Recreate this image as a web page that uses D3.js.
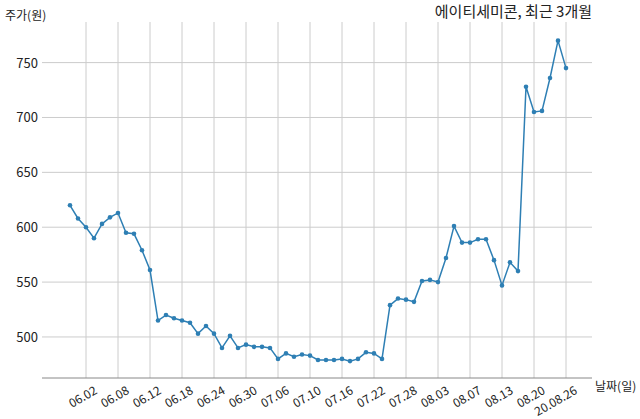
<!DOCTYPE html>
<html><head><meta charset="utf-8">
<script src="https://cdn.jsdelivr.net/npm/d3@7"></script>
<style>body{margin:0;background:#fff;font-family:"Noto Sans CJK KR","Noto Sans",sans-serif}</style>
</head><body><div id="chart"></div>
<script>
// 주가 (원), 최근 3개월
const prices = [620,608,600,590,603,609,613,595,594,579,561,515,520,517,515,513,503,510,503,490,
  501,490,493,491,491,490,480,485,482,484,483,479,479,479,480,478,480,486,485,480,
  529,535,534,532,551,552,550,572,601,586,586,589,589,570,547,568,560,728,705,706,736,770,745];
const tickIdx = [2,6,10,14,18,22,26,30,34,38,42,46,50,54,58,62];
const tickLabels = ["06.02","06.08","06.12","06.18","06.24","06.30","07.06","07.10","07.16","07.22","07.28","08.03","08.07","08.13","08.20","20.08.26"];
const yTicks = [500,550,600,650,700,750];

const W = 640, H = 419, L = 42, R = 592, T = 22, B = 378;
const svg = d3.select("#chart").append("svg").attr("width", W).attr("height", H);
const x = d3.scaleLinear().domain([-3.5, 65.25]).range([L, R]);
const y = d3.scaleLinear().domain([462.6, 787]).range([B, T]);

svg.append("g").selectAll("line").data(yTicks).join("line")
  .attr("x1", L).attr("x2", R).attr("y1", d => y(d)).attr("y2", d => y(d))
  .attr("stroke", "#ccc");
svg.append("g").selectAll("line").data(tickIdx).join("line")
  .attr("x1", d => x(d)).attr("x2", d => x(d)).attr("y1", T).attr("y2", B)
  .attr("stroke", "#ccc");
svg.append("line").attr("x1", L).attr("x2", R).attr("y1", B).attr("y2", B).attr("stroke", "#888");

svg.append("g").selectAll("text").data(yTicks).join("text")
  .attr("x", 38).attr("y", d => y(d) + 5).attr("text-anchor", "end")
  .attr("font-size", 13).attr("fill", "#222").text(d => d);
svg.append("g").selectAll("text").data(tickIdx).join("text")
  .attr("transform", d => `translate(${x(d) + 12},${B + 15}) rotate(-30)`)
  .attr("text-anchor", "end").attr("font-size", 12).attr("fill", "#222")
  .text((d, i) => tickLabels[i]);

const line = d3.line().x((d, i) => x(i)).y(d => y(d));
svg.append("path").datum(prices).attr("d", line).attr("fill", "none")
  .attr("stroke", "#2e7fb4").attr("stroke-width", 1.5);
svg.append("g").selectAll("circle").data(prices).join("circle")
  .attr("cx", (d, i) => x(i)).attr("cy", d => y(d)).attr("r", 2.3).attr("fill", "#2e7fb4");

svg.append("text").attr("x", 592).attr("y", 17).attr("text-anchor", "end")
  .attr("font-size", 15).attr("fill", "#222").text("에이티세미콘, 최근 3개월");
svg.append("text").attr("x", 5).attr("y", 20).attr("font-size", 12).attr("fill", "#222").text("주가(원)");
svg.append("text").attr("x", 595).attr("y", 391).attr("font-size", 12).attr("fill", "#222").text("날짜(일)");
</script></body></html>
